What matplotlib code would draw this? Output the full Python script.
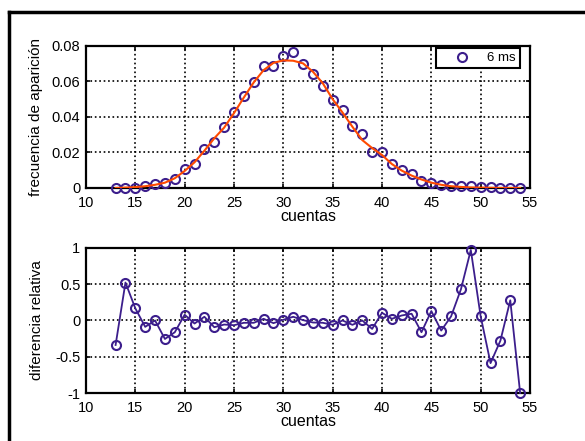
import matplotlib
matplotlib.use("Agg")
import matplotlib.pyplot as plt
from matplotlib.lines import Line2D

plt.rcParams['font.family'] = ['Liberation Sans', 'DejaVu Sans']

# counts observed
cuentas = list(range(13, 55))

# observed frequency (6 ms)
frecuencia = [0.0, 0.0, 0.0, 0.001, 0.0023, 0.0026, 0.005, 0.0107, 0.0135, 0.022,
              0.0257, 0.0345, 0.0428, 0.0518, 0.0595, 0.0689, 0.0687, 0.0745, 0.0764, 0.0698,
              0.0645, 0.0576, 0.0495, 0.0439, 0.0349, 0.0302, 0.0204, 0.0201, 0.0133, 0.0101,
              0.0077, 0.0041, 0.003, 0.0017, 0.0012, 0.0012, 0.0013, 0.0005, 0.0003, 0.0002,
              0.0001, 0.0001]

# fitted curve, read at each count
ajuste = [0.0, 0.0002, 0.0005, 0.001, 0.0018, 0.003, 0.0055, 0.0096, 0.0145, 0.021,
          0.028, 0.034, 0.0422, 0.051, 0.0595, 0.0664, 0.0705, 0.0719, 0.0717, 0.0702,
          0.0655, 0.059, 0.050, 0.0425, 0.0345, 0.027, 0.0225, 0.0186, 0.0135, 0.0098,
          0.007, 0.0048, 0.003, 0.0018, 0.001, 0.0006, 0.0003, 0.0002, 0.0001, 0.0,
          0.0, 0.0]

# relative difference
diferencia = [-0.338, 0.523, 0.167, -0.088, 0.0, -0.255, -0.162, 0.079, -0.042, 0.051,
              -0.093, -0.056, -0.065, -0.032, -0.032, 0.023, -0.037, 0.01, 0.051, 0.005,
              -0.028, -0.032, -0.06, 0.0, -0.06, 0.0, -0.116, 0.106, 0.023, 0.069,
              0.093, -0.162, 0.13, -0.139, 0.056, 0.43, 0.972, 0.056, -0.588, -0.278,
              0.278, -1.0]

azul = '#3c1e8c'
naranja = '#ff4a00'

fig = plt.figure(figsize=(5.85, 4.41), dpi=100)
ax1 = fig.add_axes([0.147, 0.5737, 0.759, 0.322])
ax2 = fig.add_axes([0.147, 0.1088, 0.759, 0.329])

ax1.plot(cuentas, frecuencia, 'o', mfc='none', mec=azul, mew=1.5, ms=6.5,
         label='6 ms', clip_on=False, zorder=3)
ax1.plot(cuentas, ajuste, '-', color=naranja, lw=1.5, zorder=4)
ax1.set_xlim(10, 55)
ax1.set_ylim(0, 0.08)
ax1.set_xticks(range(10, 60, 5))
ax1.set_yticks([0, 0.02, 0.04, 0.06, 0.08])
ax1.set_yticklabels(['0', '0.02', '0.04', '0.06', '0.08'])
ax1.set_xlabel('cuentas', fontsize=11.5, labelpad=-1)
ax1.set_ylabel('frecuencia de aparición', fontsize=11, labelpad=6)
leg = ax1.legend(loc='upper right', bbox_to_anchor=(0.9775, 0.986), fontsize=9.5,
                 fancybox=False, framealpha=1, edgecolor='black', handlelength=3.4,
                 handletextpad=0.2, borderaxespad=0, borderpad=0.3)
leg.get_frame().set_linewidth(1.5)

ax2.plot(cuentas, diferencia, '-o', color=azul, mfc='none', mec=azul, mew=1.5,
         ms=6.5, lw=1.3, clip_on=False, zorder=3)
ax2.set_xlim(10, 55)
ax2.set_ylim(-1, 1)
ax2.set_xticks(range(10, 60, 5))
ax2.set_yticks([-1, -0.5, 0, 0.5, 1])
ax2.set_yticklabels(['-1', '-0.5', '0', '0.5', '1'])
ax2.set_xlabel('cuentas', fontsize=11.5, labelpad=-1)
ax2.set_ylabel('diferencia relativa', fontsize=11, labelpad=8)

for ax in (ax1, ax2):
    ax.grid(True, color='black', linestyle=':', linewidth=1.2)
    ax.tick_params(direction='in', top=True, right=True, length=3, width=1.2,
                   labelsize=10.5, colors='black')
    ax.tick_params(axis='x', pad=6)
    ax.tick_params(axis='y', pad=4)
    for s in ax.spines.values():
        s.set_linewidth(1.6)

# outer frame (left and top edges)
fig.add_artist(Line2D([9 / 585, 9 / 585], [0, 1 - 12 / 441], transform=fig.transFigure,
                      color='black', lw=2.5))
fig.add_artist(Line2D([9 / 585, 1], [1 - 12 / 441, 1 - 12 / 441], transform=fig.transFigure,
                      color='black', lw=2.5))

fig.savefig('out.png', dpi=100)
